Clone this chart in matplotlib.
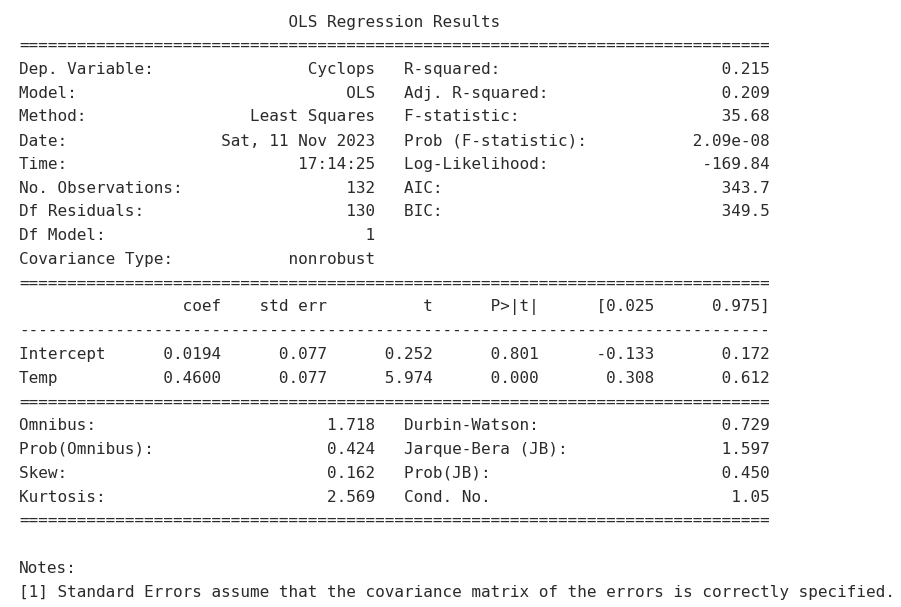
import matplotlib.pyplot as plt

# model header
model_info = ["Cyclops", "OLS", "Least Squares", "Sat, 11 Nov 2023", "17:14:25",
              "132", "130", "1", "nonrobust"]
model_labels = ["Dep. Variable:", "Model:", "Method:", "Date:", "Time:",
                "No. Observations:", "Df Residuals:", "Df Model:", "Covariance Type:"]
fit_labels = ["R-squared:", "Adj. R-squared:", "F-statistic:", "Prob (F-statistic):",
              "Log-Likelihood:", "AIC:", "BIC:"]
fit_values = ["0.215", "0.209", "35.68", "2.09e-08", "-169.84", "343.7", "349.5"]

# coefficient table
coef_names = ["Intercept", "Temp"]
coef = ["0.0194", "0.4600"]
std_err = ["0.077", "0.077"]
t_vals = ["0.252", "5.974"]
p_vals = ["0.801", "0.000"]
ci_low = ["-0.133", "0.308"]
ci_high = ["0.172", "0.612"]

# residual diagnostics
diag_left_labels = ["Omnibus:", "Prob(Omnibus):", "Skew:", "Kurtosis:"]
diag_left_values = ["1.718", "0.424", "0.162", "2.569"]
diag_right_labels = ["Durbin-Watson:", "Jarque-Bera (JB):", "Prob(JB):", "Cond. No."]
diag_right_values = ["0.729", "1.597", "0.450", "1.05"]

note = "[1] Standard Errors assume that the covariance matrix of the errors is correctly specified."

W = 78
lines = ["OLS Regression Results".center(W), "=" * W]
for i, lab in enumerate(model_labels):
    left = lab + model_info[i].rjust(37 - len(lab))
    if i < len(fit_labels):
        right = fit_labels[i] + fit_values[i].rjust(38 - len(fit_labels[i]))
    else:
        right = ""
    lines.append((left + "   " + right).ljust(W))
lines.append("=" * W)
lines.append(" " * 17 + "coef" + "std err".rjust(11) + "t".rjust(11) + "P>|t|".rjust(11)
             + "[0.025".rjust(12) + "0.975]".rjust(12))
lines.append("-" * W)
for i, name in enumerate(coef_names):
    lines.append(name.ljust(15) + coef[i].rjust(6) + std_err[i].rjust(11) + t_vals[i].rjust(11)
                 + p_vals[i].rjust(11) + ci_low[i].rjust(12) + ci_high[i].rjust(12))
lines.append("=" * W)
for i, lab in enumerate(diag_left_labels):
    left = lab + diag_left_values[i].rjust(37 - len(lab))
    right = diag_right_labels[i] + diag_right_values[i].rjust(38 - len(diag_right_labels[i]))
    lines.append(left + "   " + right)
lines.append("=" * W)
lines.append("")
lines.append("Notes:")
lines.append(note)

fig = plt.figure(figsize=(9.01, 6.07), dpi=100)
fig.patch.set_facecolor("white")

x0 = 19 / 901
top = 22
step = 23.75
for k, line in enumerate(lines):
    y = 1 - (top + k * step) / 607
    fig.text(x0, y, line, family="DejaVu Sans Mono", fontsize=11.5,
             color="#2b2b2b", ha="left", va="center")

fig.savefig("out.png", dpi=100, facecolor="white")
